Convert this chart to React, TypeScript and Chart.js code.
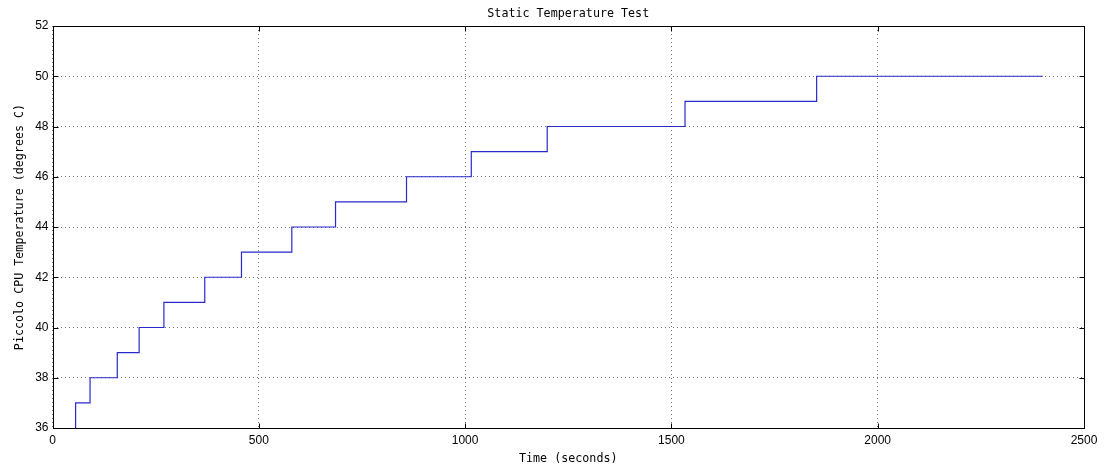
import React, { useEffect, useRef } from "react";
import { Chart, registerables } from "chart.js";

Chart.register(...registerables);

// Logged CPU temperature: each point is the time a new reading level begins
const timeSeconds = [56, 56, 91, 157, 210, 270, 369, 458, 580, 686, 858, 1015, 1199, 1533, 1852, 2400];
const tempCelsius = [36, 37, 38, 39, 40, 41, 42, 43, 44, 45, 46, 47, 48, 49, 50, 50];

const xTickValues = [0, 500, 1000, 1500, 2000, 2500];
const yTickValues = [36, 38, 40, 42, 44, 46, 48, 50, 52];

const titleText = "Static Temperature Test";
const xLabelText = "Time (seconds)";
const yLabelText = "Piccolo CPU Temperature (degrees C)";

const W = 1107;
const H = 469;

const monoFont = "11.7px 'DejaVu Sans Mono', monospace";

// Box, inward tick marks on all four sides, and the title/axis labels
const frameAndLabels = {
  id: "frameAndLabels",
  afterDraw(chart: any) {
    const { ctx, chartArea, scales } = chart;
    const { left, right, top, bottom } = chartArea;
    const x = scales.x;
    const y = scales.y;
    const tick = 5;
    ctx.save();
    ctx.strokeStyle = "#000";
    ctx.lineWidth = 1;
    ctx.setLineDash([]);
    const L = Math.round(left) + 0.5;
    const R = Math.round(right) + 0.5;
    const T = Math.round(top) + 0.5;
    const B = Math.round(bottom) + 0.5;
    ctx.beginPath();
    xTickValues.forEach((v) => {
      const px = Math.round(x.getPixelForValue(v)) + 0.5;
      ctx.moveTo(px, B);
      ctx.lineTo(px, B - tick);
      ctx.moveTo(px, T);
      ctx.lineTo(px, T + tick);
    });
    yTickValues.forEach((v) => {
      const py = Math.round(y.getPixelForValue(v)) + 0.5;
      ctx.moveTo(L, py);
      ctx.lineTo(L + tick, py);
      ctx.moveTo(R, py);
      ctx.lineTo(R - tick, py);
    });
    ctx.stroke();
    ctx.strokeRect(L, T, R - L, B - T);

    ctx.fillStyle = "#000";
    ctx.font = monoFont;
    ctx.textAlign = "center";
    ctx.textBaseline = "middle";
    const cx = (left + right) / 2;
    ctx.fillText(titleText, cx, 13.5);
    ctx.fillText(xLabelText, cx, 459);
    ctx.translate(20, (top + bottom) / 2);
    ctx.rotate(-Math.PI / 2);
    ctx.fillText(yLabelText, 0, 0);
    ctx.restore();
  },
};

export default function App() {
  const canvasRef = useRef<HTMLCanvasElement | null>(null);

  useEffect(() => {
    const canvas = canvasRef.current;
    if (!canvas) return;
    const tickFont = { family: "'Liberation Sans', Arial, sans-serif", size: 12 };
    const gridStyle = {
      color: "rgba(0,0,0,0.55)",
      lineWidth: 1,
      drawTicks: false,
    };
    const plain = (v: any) => String(v);
    const chart = new Chart(canvas, {
      type: "line",
      data: {
        datasets: [
          {
            data: timeSeconds.map((t, i) => ({ x: t, y: tempCelsius[i] })),
            borderColor: "rgb(40,40,205)",
            borderWidth: 1.2,
            pointRadius: 0,
            fill: false,
            stepped: true,
            tension: 0,
          },
        ],
      },
      options: {
        animation: false,
        responsive: false,
        maintainAspectRatio: false,
        layout: { padding: { top: 26, right: 23, left: 0, bottom: 0 } },
        plugins: {
          legend: { display: false },
          title: { display: false },
          tooltip: { enabled: false },
        },
        scales: {
          x: {
            type: "linear",
            min: 0,
            max: 2500,
            afterBuildTicks: (s: any) => {
              s.ticks = xTickValues.map((v) => ({ value: v }));
            },
            afterFit: (s: any) => {
              s.height = 41;
            },
            ticks: { font: tickFont, color: "#000", padding: 5, maxRotation: 0, callback: plain },
            grid: { ...gridStyle },
            border: { display: false, dash: [1, 3] },
          },
          y: {
            type: "linear",
            min: 36,
            max: 52,
            afterBuildTicks: (s: any) => {
              s.ticks = yTickValues.map((v) => ({ value: v }));
            },
            afterFit: (s: any) => {
              s.width = 52.5;
            },
            ticks: { font: tickFont, color: "#000", padding: 4, callback: plain },
            grid: { ...gridStyle },
            border: { display: false, dash: [1, 3] },
          },
        },
      },
      plugins: [frameAndLabels],
    });
    return () => chart.destroy();
  }, []);

  return (
    <div style={{ position: "absolute", left: 0, top: 0, width: W, height: H, background: "#fff" }}>
      <canvas ref={canvasRef} width={W} height={H} style={{ display: "block" }} />
    </div>
  );
}
